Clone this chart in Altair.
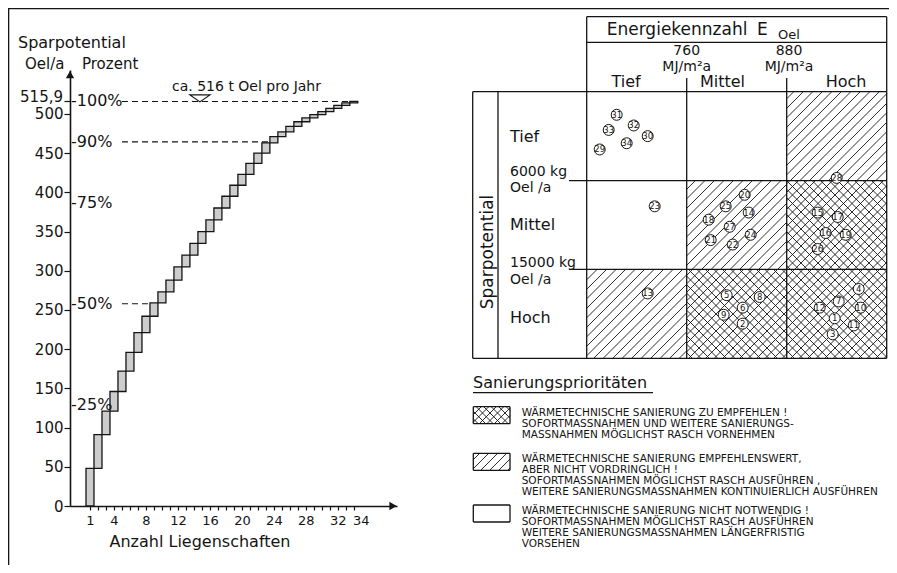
import math
import altair as alt
import pandas as pd

FONT = "DejaVu Sans"
INK = "#141414"

# ---------------- left panel data ----------------
property_rank = list(range(1, 35))
cum_savings = [48, 91, 121, 146, 172, 196, 221, 242, 259, 273, 288, 305, 320, 335, 350,
               365, 380, 395, 409, 423, 437, 450, 463, 471, 477, 484, 490, 495, 499, 503,
               507, 511, 514, 515.9]
total_savings = 515.9
total_label = "515,9"
pct_levels = [100, 90, 75, 50, 25]
pct_dashed = [100, 90, 50]
y_tick_values = [0, 50, 100, 150, 200, 250, 300, 350, 400, 450, 500, 515.9]
x_tick_labels = [1, 4, 8, 12, 16, 20, 24, 28, 32, 34]

# ---------------- right panel data ----------------
energy_classes = ["Tief", "Mittel", "Hoch"]
energy_bounds = ["760", "880"]
energy_unit = "MJ/m²a"
saving_classes = ["Tief", "Mittel", "Hoch"]
saving_bounds = ["6000 kg", "15000 kg"]
saving_unit = "Oel /a"
priority = [[0, 0, 1], [0, 1, 2], [1, 2, 2]]   # 0 = none, 1 = hatched, 2 = cross-hatched

prop_id = [31, 32, 33, 30, 34, 29, 28, 23, 20, 25, 14, 18, 27, 21, 22, 24, 15, 17, 16, 19, 26,
           13, 5, 8, 6, 9, 2, 4, 7, 12, 10, 1, 11, 3]
prop_x = [0.30, 0.47, 0.22, 0.61, 0.40, 0.13, 2.50, 0.68, 1.58, 1.39, 1.62, 1.22, 1.43, 1.24,
          1.46, 1.64, 2.31, 2.51, 2.39, 2.59, 2.31, 0.61, 1.40, 1.73, 1.56, 1.37, 1.56, 2.72,
          2.52, 2.33, 2.74, 2.48, 2.67, 2.46]
prop_y = [0.26, 0.38, 0.43, 0.50, 0.58, 0.65, 0.97, 1.29, 1.16, 1.29, 1.36, 1.44, 1.52, 1.67,
          1.72, 1.61, 1.36, 1.41, 1.59, 1.61, 1.77, 2.27, 2.29, 2.31, 2.43, 2.51, 2.61, 2.22,
          2.36, 2.43, 2.43, 2.55, 2.63, 2.73]

legend_title = "Sanierungsprioritäten"
legend_priority = [2, 1, 0]
legend_text = [
    ["WÄRMETECHNISCHE SANIERUNG ZU EMPFEHLEN !",
     "SOFORTMASSNAHMEN UND WEITERE SANIERUNGS-",
     "MASSNAHMEN MÖGLICHST RASCH VORNEHMEN"],
    ["WÄRMETECHNISCHE SANIERUNG EMPFEHLENSWERT,",
     "ABER NICHT VORDRINGLICH !",
     "SOFORTMASSNAHMEN MÖGLICHST RASCH AUSFÜHREN  ,",
     "WEITERE SANIERUNGSMASSNAHMEN KONTINUIERLICH AUSFÜHREN"],
    ["WÄRMETECHNISCHE SANIERUNG NICHT NOTWENDIG !",
     "SOFORTMASSNAHMEN MÖGLICHST RASCH AUSFÜHREN",
     "WEITERE SANIERUNGSMASSNAHMEN LÄNGERFRISTIG",
     "VORSEHEN"],
]

# ---------------- layout ----------------
W, H = 819, 498
LX_MIN, LX_MAX = -1.5, 39.4
LY_MAX = 556
LX = alt.Scale(domain=[LX_MIN, LX_MAX], range=[0, 327], nice=False, zero=False)
LY = alt.Scale(domain=[0, LY_MAX], range=[498, 62], nice=False, zero=False)

MX0, MX1, MY0, MY1 = 516.7, 816.7, 83.7, 350.3
MX = alt.Scale(domain=[0, 3], range=[MX0, MX1], nice=False, zero=False)
MY = alt.Scale(domain=[0, 3], range=[MY0, MY1], nice=False, zero=False)
PXU = (MX1 - MX0) / 3
PYU = (MY1 - MY0) / 3

PXS = alt.Scale(domain=[0, W], range=[0, W], nice=False, zero=False)
PYS = alt.Scale(domain=[0, H], range=[0, H], nice=False, zero=False)


def ux(px):
    return (px - MX0) / PXU


def uy(py):
    return (py - MY0) / PYU


def hatch_segments(x0, x1, y0, y1, step, cross):
    segs = []
    for k in range(math.floor((x0 + y0) / step), math.ceil((x1 + y1) / step) + 1):
        c = k * step
        lo, hi = max(x0, c - y1), min(x1, c - y0)
        if hi - lo > 0.6:
            segs.append((lo, c - lo, hi, c - hi))
    if cross:
        for k in range(math.floor((x0 - y1) / step), math.ceil((x1 - y0) / step) + 1):
            c = k * step
            lo, hi = max(x0, c + y0), min(x1, c + y1)
            if hi - lo > 0.6:
                segs.append((lo, lo - c, hi, hi - c))
    return [(ux(a), uy(b), ux(c), uy(d)) for a, b, c, d in segs]


def seg_layer(segs, scx, scy, width=1.2, dash=None):
    df = pd.DataFrame(segs, columns=["x", "y", "x2", "y2"])
    kw = dict(color=INK, strokeWidth=width)
    if dash:
        kw["strokeDash"] = dash
    return alt.Chart(df).mark_rule(**kw).encode(
        x=alt.X("x:Q", scale=scx, axis=None), x2="x2:Q",
        y=alt.Y("y:Q", scale=scy, axis=None), y2="y2:Q")


def text_layer(rows, align):
    df = pd.DataFrame(rows, columns=["x", "y", "t", "fs", "ang"])
    return alt.Chart(df).mark_text(align=align, baseline="middle", font=FONT, fill=INK).encode(
        x=alt.X("x:Q", scale=PXS, axis=None),
        y=alt.Y("y:Q", scale=PYS, axis=None),
        text="t:N",
        size=alt.Size("fs:Q", scale=None, legend=None),
        angle=alt.Angle("ang:Q", scale=None, legend=None))


layers = []

# ---------------- left panel ----------------
steps_df = pd.DataFrame({"rank": property_rank, "top": cum_savings})
steps_df["base"] = [0] + cum_savings[:-1]
steps_df["x0"] = steps_df["rank"] - 0.5
steps_df["x1"] = steps_df["rank"] + 0.5

x_label_expr = "indexof(%s, datum.value) >= 0 ? '' + datum.value : ''" % str(x_tick_labels)
y_label_expr = "datum.value > 510 ? '' : format(datum.value, 'd')"
common_axis = dict(grid=False, title=None, domainColor=INK, domainWidth=1.6, tickColor=INK,
                   tickWidth=1.2, labelFont=FONT, labelColor=INK, labelOverlap=False,
                   labelFlush=False, labelBound=False)

layers.append(alt.Chart(steps_df).mark_rect(fill="#cdcdcd", stroke=INK, strokeWidth=1.3).encode(
    x=alt.X("x0:Q", scale=LX, axis=alt.Axis(
        values=property_rank, labelExpr=x_label_expr, tickSize=4, labelFontSize=13,
        labelPadding=4,
        labelOffset={"condition": {"test": "datum.value == 34", "value": 7}, "value": 0},
        **common_axis)),
    x2="x1:Q",
    y=alt.Y("base:Q", scale=LY, axis=alt.Axis(values=y_tick_values, labelExpr=y_label_expr,
                                              tickSize=6, labelFontSize=15, labelPadding=1,
                                              **common_axis)),
    y2="top:Q"))

# total value label at the 515,9 tick
tot_df = pd.DataFrame({"x": [LX_MIN], "y": [total_savings], "t": [total_label]})
layers.append(alt.Chart(tot_df).mark_text(align="right", baseline="middle", dx=-7, dy=-4,
                                          font=FONT, fontSize=15, fill=INK).encode(
    x=alt.X("x:Q", scale=LX, axis=None), y=alt.Y("y:Q", scale=LY, axis=None), text="t:N"))

# axis arrow heads
arrow_df = pd.DataFrame({"x": [LX_MIN, LX_MAX - 0.5], "y": [LY_MAX - 6, 0],
                         "shape": ["triangle-up", "triangle-right"]})
layers.append(alt.Chart(arrow_df).mark_point(filled=True, color=INK, opacity=1, size=70).encode(
    x=alt.X("x:Q", scale=LX, axis=None), y=alt.Y("y:Q", scale=LY, axis=None),
    shape=alt.Shape("shape:N", scale=None, legend=None)))

# percent labels next to the axis
pct_df = pd.DataFrame({"pct": pct_levels})
pct_df["v"] = pct_df["pct"] * total_savings / 100
pct_df["label"] = "-" + pct_df["pct"].astype(str) + "%"
pct_df["x"] = LX_MIN
layers.append(alt.Chart(pct_df).mark_text(align="left", baseline="middle", dx=1, font=FONT,
                                          fontSize=16, fill=INK).encode(
    x=alt.X("x:Q", scale=LX, axis=None), y=alt.Y("v:Q", scale=LY, axis=None), text="label:N"))


def dash_end(p):
    v = p * total_savings / 100
    k = next(i for i, c in enumerate(cum_savings) if c >= v - 0.01)
    return property_rank[k] + (0.5 if p == 100 else -0.5)


dash_segs = [(5.0, p * total_savings / 100, dash_end(p), p * total_savings / 100) for p in pct_dashed]
layers.append(seg_layer(dash_segs, LX, LY, width=1.1, dash=[6, 4]))

# "ca. 516 t Oel pro Jahr" marker
tri_df = pd.DataFrame({"x": [14.75], "y": [519.8]})
layers.append(alt.Chart(tri_df).mark_point(shape="M-1,-0.35L1,-0.35L0,0.35Z", filled=True,
                                           fill="white", stroke=INK, strokeWidth=1.2,
                                           opacity=1, size=400).encode(
    x=alt.X("x:Q", scale=LX, axis=None), y=alt.Y("y:Q", scale=LY, axis=None)))

# ---------------- right panel: hatch ----------------
hatch = []
for r in range(3):
    for c in range(3):
        p = priority[r][c]
        if p:
            hatch += hatch_segments(MX0 + c * PXU, MX0 + (c + 1) * PXU,
                                    MY0 + r * PYU, MY0 + (r + 1) * PYU,
                                    9.5 if p == 1 else 8.5, p == 2)

# legend swatches (plot px)
SW_X0, SW_X1, SW_H = 403.3, 440.0, 17.0
sw_tops = [398.7, 445.3, 497.0]
for top, p in zip(sw_tops, legend_priority):
    if p:
        hatch += hatch_segments(SW_X0, SW_X1, top, top + SW_H, 9.0 if p == 1 else 7.5, p == 2)
layers.append(seg_layer(hatch, MX, MY, width=0.9))

# grid lines (matrix units)
hx0, hin = ux(402.7), ux(428.0)
hy_top, hy_sep, hy_tick = uy(8.7), uy(34.3), uy(70.0)
div_x0 = ux(499.0)
grid = [
    (0, hy_top, 3, hy_top), (0, hy_top, 0, 0), (3, hy_top, 3, 0), (0, hy_sep, 3, hy_sep),
    (1, hy_tick, 1, 0), (2, hy_tick, 2, 0),
    (hx0, 0, 3, 0), (hx0, 3, 3, 3),
    (div_x0, 1, 3, 1), (div_x0, 2, 3, 2),
]
for xv in [hx0, hin, 0, 1, 2, 3]:
    grid.append((xv, 0, xv, 3))
for top in sw_tops:
    a, b, c, d = ux(SW_X0), uy(top), ux(SW_X1), uy(top + SW_H)
    grid += [(a, b, c, b), (a, d, c, d), (a, b, a, d), (c, b, c, d)]
layers.append(seg_layer(grid, MX, MY, width=1.3))

# property circles
props_df = pd.DataFrame({"id": prop_id, "x": prop_x, "y": prop_y})
layers.append(alt.Chart(props_df).mark_point(shape="circle", filled=True, fill="white", stroke=INK,
                                             strokeWidth=1.0, opacity=1, size=120).encode(
    x=alt.X("x:Q", scale=MX, axis=None), y=alt.Y("y:Q", scale=MY, axis=None)))
layers.append(alt.Chart(props_df).mark_text(font=FONT, fontSize=8.5, fill=INK, baseline="middle").encode(
    x=alt.X("x:Q", scale=MX, axis=None), y=alt.Y("y:Q", scale=MY, axis=None), text="id:N"))

# ---------------- text ----------------
left_rows = [
    (-52, 35, "Sparpotential", 16, 0),
    (-45, 56, "Oel/a", 15, 0),
    (12, 56, "Prozent", 15, 0),
    (536.7, 22, "Energiekennzahl", 17, 0),
    (687, 22, "E", 17, 0),
    (708, 27, "Oel", 13, 0),
    (403, 375, legend_title, 16, 0),
]
row_y = [128.7, 217, 310.3]
for name, yy in zip(saving_classes, row_y):
    left_rows.append((440, yy, name, 16, 0))
for b, yy in zip(saving_bounds, [163.7, 255.3]):
    left_rows.append((440, yy, b, 14, 0))
    left_rows.append((440, yy + 16.5, saving_unit, 14, 0))
for k, lines in enumerate(legend_text):
    for j, line in enumerate(lines):
        left_rows.append((451.7, sw_tops[k] + 6 + 11 * j, line, 10.5, 0))
layers.append(text_layer(left_rows, "left"))

center_rows = [
    (130, 533.7, "Anzahl  Liegenschaften", 16, 0),
    (176.5, 79, "ca. 516 t Oel pro Jahr", 14, 0),
    (417.7, 244, "Sparpotential", 17, 270),
]
for name, xx in zip(energy_classes, [556, 652.5, 776]):
    center_rows.append((xx, 73.7, name, 16, 0))
for b, xx in zip(energy_bounds, [616.7, 719]):
    center_rows.append((xx, 42.5, b, 14, 0))
    center_rows.append((xx, 58.5, energy_unit, 14, 0))
layers.append(text_layer(center_rows, "center"))

# underline of legend title and page frame
layers.append(seg_layer([(403, 384.7, 583, 384.7)], PXS, PYS, width=1.3))
layers.append(seg_layer([(-62, 0.6, W, 0.6), (-61.4, 0, -61.4, 557)], PXS, PYS, width=1.4))

chart = alt.layer(*layers).resolve_scale(x="independent", y="independent").properties(
    width=W, height=H,
    autosize=alt.AutoSizeParams(type="none"),
    padding={"left": 62, "top": 0, "right": 0, "bottom": 59},
    background="white",
).configure_view(stroke=None)

chart.save("out.html", embed_options={"renderer": "svg", "actions": False})
